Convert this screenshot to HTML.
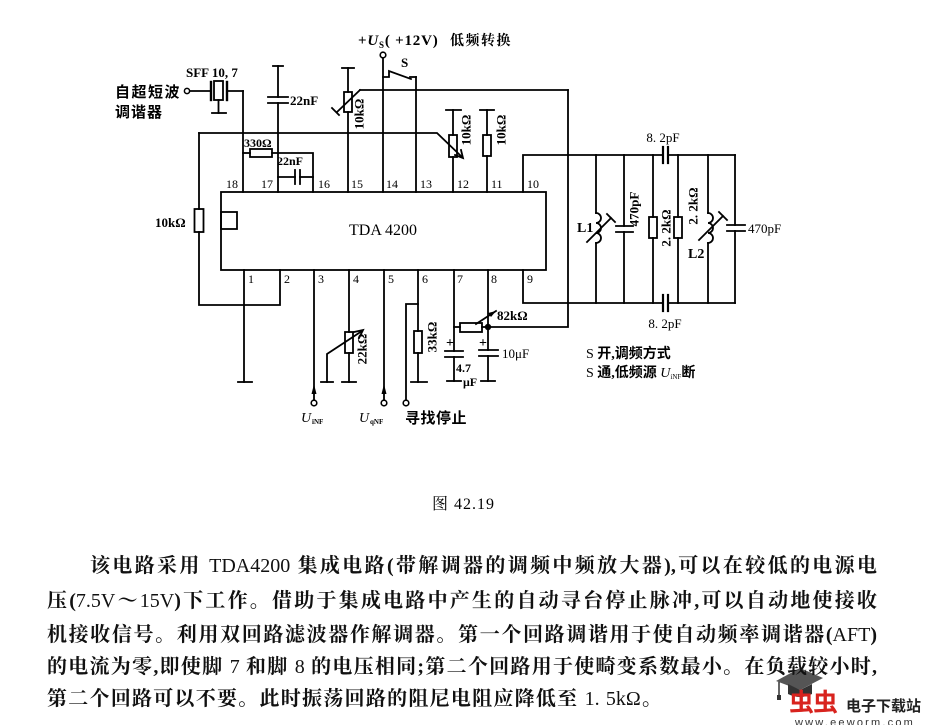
<!DOCTYPE html>
<html><head><meta charset="utf-8">
<style>
html,body{margin:0;padding:0;background:#fff;}
body{width:928px;height:725px;position:relative;overflow:hidden;}
svg{position:absolute;left:0;top:0;}
.p{position:absolute;height:22px;line-height:22px;font-size:20px;white-space:nowrap;text-align:justify;text-align-last:justify;font-family:"Liberation Serif","Noto Serif CJK SC",serif;font-weight:bold;color:#111;}
.p span{font-weight:normal;}
</style></head><body>
<svg width="928" height="725" viewBox="0 0 928 725" xmlns="http://www.w3.org/2000/svg">
<g stroke="#000" stroke-width="1.8" fill="none" stroke-linecap="square">
<!-- input + crystal -->
<circle cx="187" cy="91" r="2.6" stroke-width="1.5"/>
<line x1="190" y1="91" x2="211" y2="91"/>
<line x1="211" y1="82" x2="211" y2="100" stroke-width="2.4"/>
<rect x="214" y="81" width="9" height="19"/>
<line x1="227" y1="82" x2="227" y2="100" stroke-width="2.4"/>
<line x1="227" y1="91" x2="243" y2="91"/>
<line x1="243" y1="91" x2="243" y2="192"/>
<line x1="218.5" y1="100" x2="218.5" y2="113"/>
<line x1="212" y1="113" x2="226" y2="113"/>
<!-- pin17 cap up -->
<line x1="273" y1="66" x2="283" y2="66"/>
<line x1="278" y1="66" x2="278" y2="97"/>
<line x1="268" y1="97" x2="288" y2="97"/>
<line x1="268" y1="103" x2="288" y2="103"/>
<line x1="278" y1="103" x2="278" y2="192"/>
<!-- horizontal y133 -->
<polyline points="199,133 437,133 462,157"/>
<polyline points="455,155 463,158 461,150"/>
<!-- left 10k -->
<line x1="199" y1="133" x2="199" y2="209"/>
<rect x="194.5" y="209" width="9" height="23"/>
<polyline points="199,232 199,305 280,305 280,270"/>
<!-- 330 -->
<line x1="243" y1="153" x2="250" y2="153"/>
<rect x="250" y="149" width="22" height="8"/>
<polyline points="272,153 313,153 313,192"/>
<!-- 22nF 17-16 -->
<line x1="278" y1="177" x2="295" y2="177"/>
<line x1="295" y1="170" x2="295" y2="184"/>
<line x1="300" y1="170" x2="300" y2="184"/>
<line x1="300" y1="177" x2="313" y2="177"/>
<!-- pin15 pot -->
<line x1="342" y1="68" x2="354" y2="68"/>
<line x1="348" y1="68" x2="348" y2="92"/>
<rect x="344" y="92" width="8" height="20"/>
<line x1="348" y1="112" x2="348" y2="192"/>
<line x1="360" y1="90" x2="337" y2="112"/>
<line x1="332" y1="108" x2="339" y2="115"/>
<line x1="360" y1="90" x2="568" y2="90"/>
<!-- pin14 + switch -->
<circle cx="383" cy="55" r="2.8" stroke-width="1.6"/>
<line x1="383" y1="58" x2="383" y2="192"/>
<polyline points="383,77 389,77 389,71 411,79"/>
<line x1="410" y1="77" x2="416" y2="77"/>
<line x1="416" y1="77" x2="416" y2="192"/>
<!-- pin12 pot -->
<line x1="446" y1="110" x2="461" y2="110"/>
<line x1="453" y1="110" x2="453" y2="135"/>
<rect x="449" y="135" width="8" height="22"/>
<line x1="453" y1="157" x2="453" y2="192"/>
<!-- pin11 -->
<line x1="480" y1="110" x2="494" y2="110"/>
<line x1="487" y1="110" x2="487" y2="135"/>
<rect x="483" y="135" width="8" height="21"/>
<line x1="487" y1="156" x2="487" y2="192"/>
<!-- pin10 top rail -->
<polyline points="523,192 523,155 663,155"/>
<line x1="663" y1="147" x2="663" y2="163" stroke-width="2.2"/>
<line x1="668" y1="147" x2="668" y2="163" stroke-width="2.2"/>
<line x1="668" y1="155" x2="735" y2="155"/>
<!-- right vertical -->
<polyline points="568,90 568,327 488,327"/>
<!-- pin9 bottom rail -->
<polyline points="523,270 523,303 663,303"/>
<line x1="663" y1="295" x2="663" y2="311" stroke-width="2.2"/>
<line x1="668" y1="295" x2="668" y2="311" stroke-width="2.2"/>
<line x1="668" y1="303" x2="735" y2="303"/>
<!-- L1 -->
<line x1="596" y1="155" x2="596" y2="213"/>
<path d="M596,213 a5,5 0 0 1 0,10 a5,5 0 0 1 0,10 a5,5 0 0 1 0,10"/>
<line x1="596" y1="243" x2="596" y2="303"/>
<line x1="587" y1="242" x2="611" y2="218"/>
<line x1="607" y1="214" x2="615" y2="222"/>
<!-- C 470 -->
<line x1="624" y1="155" x2="624" y2="226"/>
<line x1="616" y1="226" x2="633" y2="226"/>
<line x1="616" y1="232" x2="633" y2="232"/>
<line x1="624" y1="232" x2="624" y2="303"/>
<!-- R 2.2k -->
<line x1="653" y1="155" x2="653" y2="217"/>
<rect x="649" y="217" width="8" height="21"/>
<line x1="653" y1="238" x2="653" y2="303"/>
<line x1="678" y1="155" x2="678" y2="217"/>
<rect x="674" y="217" width="8" height="21"/>
<line x1="678" y1="238" x2="678" y2="303"/>
<!-- L2 -->
<line x1="708" y1="155" x2="708" y2="213"/>
<path d="M708,213 a5,5 0 0 1 0,10 a5,5 0 0 1 0,10 a5,5 0 0 1 0,10"/>
<line x1="708" y1="243" x2="708" y2="303"/>
<line x1="699" y1="240" x2="723" y2="216"/>
<line x1="719" y1="212" x2="727" y2="220"/>
<!-- C 470 right -->
<line x1="735" y1="155" x2="735" y2="225"/>
<line x1="727" y1="225" x2="745" y2="225"/>
<line x1="727" y1="231" x2="745" y2="231"/>
<line x1="735" y1="231" x2="735" y2="303"/>
<!-- IC -->
<rect x="221" y="192" width="325" height="78"/>
<rect x="221" y="212" width="16" height="17"/>
<!-- pin1 -->
<line x1="244" y1="270" x2="244" y2="382"/>
<line x1="238" y1="382" x2="252" y2="382"/>
<!-- pin3 -->
<line x1="314" y1="270" x2="314" y2="400"/>
<circle cx="314" cy="403" r="2.8" stroke-width="1.6"/>
<!-- pin4 -->
<line x1="349" y1="270" x2="349" y2="332"/>
<rect x="345" y="332" width="8" height="21"/>
<line x1="349" y1="353" x2="349" y2="382"/>
<line x1="342" y1="382" x2="356" y2="382"/>
<polyline points="327,382 327,354 362,331"/>
<polyline points="354,332 363,330 359,338"/>
<line x1="321" y1="382" x2="333" y2="382"/>
<!-- pin5 -->
<line x1="384" y1="270" x2="384" y2="400"/>
<circle cx="384" cy="403" r="2.8" stroke-width="1.6"/>
<!-- pin6 -->
<line x1="418" y1="270" x2="418" y2="331"/>
<rect x="414" y="331" width="8" height="22"/>
<line x1="418" y1="353" x2="418" y2="382"/>
<line x1="411" y1="382" x2="427" y2="382"/>
<polyline points="418,304 406,304 406,400"/>
<circle cx="406" cy="403" r="2.8" stroke-width="1.6"/>
<!-- pin7 -->
<line x1="454" y1="270" x2="454" y2="351"/>
<line x1="445" y1="351" x2="463" y2="351"/>
<line x1="445" y1="357" x2="463" y2="357"/>
<line x1="454" y1="357" x2="454" y2="381"/>
<line x1="447" y1="381" x2="461" y2="381"/>
<line x1="454" y1="327" x2="460" y2="327"/>
<rect x="460" y="323" width="22" height="9"/>
<line x1="482" y1="327" x2="488" y2="327"/>
<line x1="476" y1="324" x2="496" y2="311"/>
<!-- pin8 -->
<line x1="488" y1="270" x2="488" y2="350"/>
<line x1="479" y1="350" x2="498" y2="350"/>
<line x1="479" y1="356" x2="498" y2="356"/>
<line x1="488" y1="356" x2="488" y2="381"/>
<line x1="481" y1="381" x2="495" y2="381"/>
</g>
<g fill="#000">
<circle cx="488" cy="327" r="3.2"/>
<polygon points="314,384 311.5,394 316.5,394"/>
<polygon points="384,384 381.5,394 386.5,394"/>
<polygon points="496,311 488,313 491,317"/>
</g>
<g font-family="Liberation Serif, Noto Serif CJK SC, serif" font-weight="bold" fill="#000" font-size="13">
<text x="186" y="77">SFF 10, 7</text>
<text x="290" y="105">22nF</text>
<text x="244" y="147" font-size="12">330Ω</text>
<text x="277" y="165" font-size="12">22nF</text>
<text x="155" y="227">10kΩ</text>
<text x="401" y="67">S</text>
<text x="358" y="45" font-size="15" letter-spacing="0.8">+<tspan font-style="italic">U</tspan><tspan font-size="9" dy="3">S</tspan><tspan dy="-3">( +12V)</tspan></text>
<text x="450" y="45" font-size="14" font-family="Noto Serif CJK SC, serif" letter-spacing="1.5">低频转换</text>
<text x="115" y="97" font-size="15" font-family="Noto Sans CJK SC, sans-serif" letter-spacing="1.5">自超短波</text>
<text x="115" y="117" font-size="15" font-family="Noto Sans CJK SC, sans-serif" letter-spacing="1">调谐器</text>
<text transform="translate(359,114) rotate(-90)" text-anchor="middle" dominant-baseline="central">10kΩ</text>
<text transform="translate(466,130) rotate(-90)" text-anchor="middle" dominant-baseline="central">10kΩ</text>
<text transform="translate(501,130) rotate(-90)" text-anchor="middle" dominant-baseline="central">10kΩ</text>
<g font-size="12" font-weight="normal">
<text x="226" y="188">18</text><text x="261" y="188">17</text><text x="318" y="188">16</text>
<text x="351" y="188">15</text><text x="386" y="188">14</text><text x="420" y="188">13</text>
<text x="457" y="188">12</text><text x="491" y="188">11</text><text x="527" y="188">10</text>
<text x="248" y="283">1</text><text x="284" y="283">2</text><text x="318" y="283">3</text>
<text x="353" y="283">4</text><text x="388" y="283">5</text><text x="422" y="283">6</text>
<text x="457" y="283">7</text><text x="491" y="283">8</text><text x="527" y="283">9</text>
</g>
<text x="383" y="235" text-anchor="middle" font-size="16" font-weight="normal">TDA  4200</text>
<text x="663" y="142" text-anchor="middle" font-weight="normal">8. 2pF</text>
<text x="665" y="328" text-anchor="middle" font-weight="normal">8. 2pF</text>
<text x="577" y="232" font-size="14">L1</text>
<text x="688" y="258" font-size="14">L2</text>
<text transform="translate(634,209) rotate(-90)" text-anchor="middle" dominant-baseline="central">470pF</text>
<text transform="translate(666,228) rotate(-90)" text-anchor="middle" dominant-baseline="central">2. 2kΩ</text>
<text transform="translate(693,206) rotate(-90)" text-anchor="middle" dominant-baseline="central">2. 2kΩ</text>
<text x="748" y="233" font-weight="normal">470pF</text>
<text x="497" y="320">82kΩ</text>
<text x="502" y="358" font-weight="normal">10μF</text>
<text x="456" y="372" font-size="12">4.7</text>
<text x="463" y="386" font-size="12">μF</text>
<text x="446" y="347" font-size="14">+</text>
<text x="479" y="347" font-size="14">+</text>
<text transform="translate(362,349) rotate(-90)" text-anchor="middle" dominant-baseline="central">22kΩ</text>
<text transform="translate(432,337) rotate(-90)" text-anchor="middle" dominant-baseline="central">33kΩ</text>
<text x="301" y="422" font-size="14" font-style="italic" font-weight="normal">U</text>
<text x="312" y="424" font-size="7">iNF</text>
<text x="359" y="422" font-size="14" font-style="italic" font-weight="normal">U</text>
<text x="370" y="424" font-size="7">qNF</text>
<text x="405" y="423" font-size="15" font-family="Noto Sans CJK SC, sans-serif" letter-spacing="0.5">寻找停止</text>
<text x="586" y="358" font-size="14" font-family="Liberation Serif, Noto Sans CJK SC, sans-serif" font-weight="normal">S <tspan font-weight="bold">开,调频方式</tspan></text>
<text x="586" y="377" font-size="14" font-family="Liberation Serif, Noto Sans CJK SC, sans-serif" font-weight="normal">S <tspan font-weight="bold">通,低频源 </tspan><tspan font-style="italic">U</tspan><tspan font-size="7" dy="2">iNF</tspan><tspan dy="-2" font-weight="bold">断</tspan></text>
<text x="432" y="509" font-size="16" font-weight="normal" letter-spacing="1">图 42.19</text>
</g>
<!-- logo -->
<g>
<polygon points="776,681 800,668 823,678 800,690" fill="#555"/>
<path d="M788,684 L788,694 Q800,700 812,694 L812,684 L800,690 Z" fill="#333"/>
<line x1="779" y1="682" x2="779" y2="697" stroke="#333" stroke-width="1.5"/>
<rect x="777" y="695" width="4" height="5" fill="#333"/>
<text x="789" y="711" font-family="Noto Sans CJK SC, sans-serif" font-weight="bold" font-size="25" fill="#d8231e" letter-spacing="-1">虫虫</text>
<text x="846" y="711" font-family="Noto Sans CJK SC, sans-serif" font-weight="bold" font-size="15" fill="#222">电子下载站</text>
<text x="795" y="726" font-family="Liberation Sans, sans-serif" font-size="11" fill="#333" letter-spacing="2.2">www.eeworm.com</text>
</g>
</svg>
<div class="p" style="left:90px;top:555px;width:787px;">该电路采用 <span>TDA4200</span> 集成电路(带解调器的调频中频放大器),可以在较低的电源电</div>
<div class="p" style="left:47px;top:590px;width:830px;">压(<span>7.5V</span>～<span>15V</span>)下工作。借助于集成电路中产生的自动寻台停止脉冲,可以自动地使接收</div>
<div class="p" style="left:47px;top:624px;width:830px;">机接收信号。利用双回路滤波器作解调器。第一个回路调谐用于使自动频率调谐器(<span>AFT</span>)</div>
<div class="p" style="left:47px;top:656px;width:830px;">的电流为零,即使脚 <span>7</span> 和脚 <span>8</span> 的电压相同;第二个回路用于使畸变系数最小。在负载较小时,</div>
<div class="p" style="left:47px;top:688px;width:615px;">第二个回路可以不要。此时振荡回路的阻尼电阻应降低至 <span>1. 5kΩ</span>。</div>
</body></html>
